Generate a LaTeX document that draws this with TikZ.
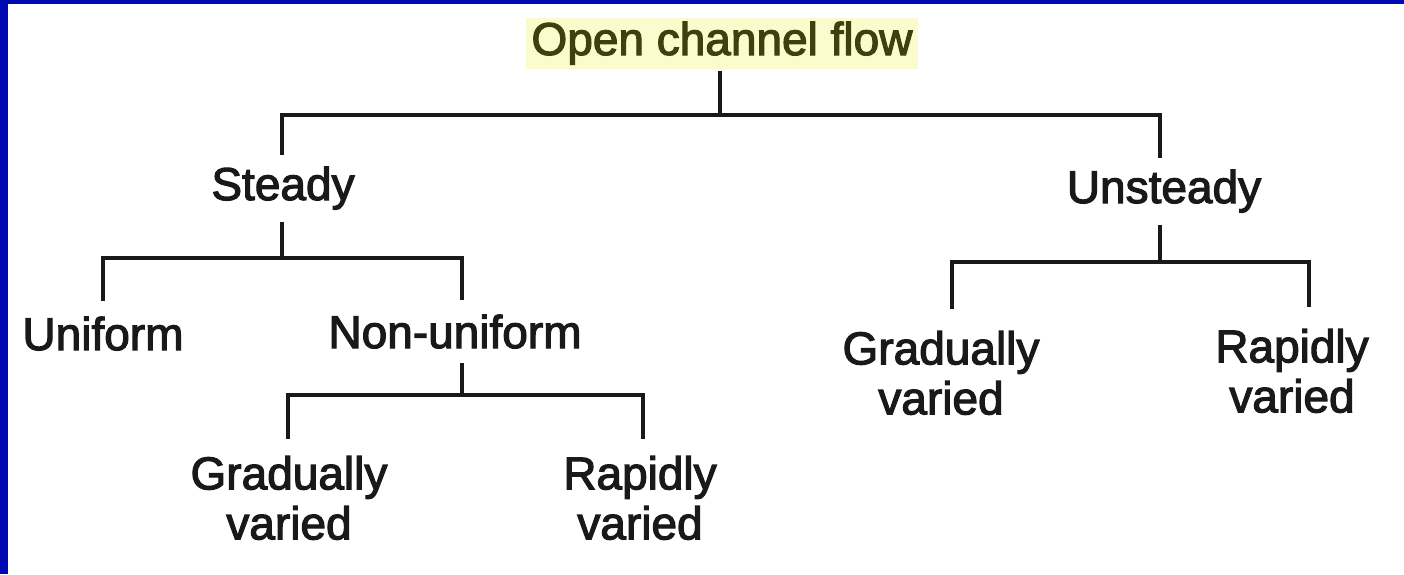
\documentclass[tikz,border=0pt]{standalone}
\usepackage{fontspec}
\setmainfont{Liberation Sans}[FakeBold=2.5]
\definecolor{frameblue}{RGB}{2,8,178}
\definecolor{titleink}{RGB}{64,64,14}
\definecolor{hl}{RGB}{251,251,205}
\definecolor{ink}{RGB}{25,25,25}
\begin{document}
\begin{tikzpicture}[x=1pt,y=-1pt,
  lbl/.style={font=\fontsize{46}{50}\selectfont, inner sep=0pt, outer ysep=12pt, text=ink, align=center},
  tree/.style={draw=ink, line width=3.5pt}]
\useasboundingbox (0,0) rectangle (1404,574);
\fill[white] (0,0) rectangle (1404,574);
\fill[frameblue] (0,0) rectangle (1404,4);
\fill[frameblue] (0,0) rectangle (8,574);
% nodes
\node[lbl, anchor=base, text=titleink, fill=hl, inner xsep=5pt, inner ysep=4pt, outer ysep=2pt] (title) at (722,55) {Open channel flow};
\node[lbl, anchor=base] (steady) at (283,200) {Steady};
\node[lbl, anchor=base] (unsteady) at (1164,203) {Unsteady};
\node[lbl, anchor=base, outer ysep=16pt] (uniform) at (103,350) {Uniform};
\node[lbl, anchor=base, outer ysep=15pt] (nonuni) at (455,348) {Non-uniform};
\node[lbl, anchor=north, outer ysep=17pt] (grad1) at (289,439) {Gradually\\varied};
\node[lbl, anchor=north, outer ysep=17pt] (rap1) at (640,439) {Rapidly\\varied};
\node[lbl, anchor=north, outer ysep=22pt] (grad2) at (941,309) {Gradually\\varied};
\node[lbl, anchor=north, outer ysep=22pt] (rap2) at (1292,307) {Rapidly\\varied};
% junctions
\coordinate (j0) at (720,115);
\coordinate (j1) at (282,258);
\coordinate (j2) at (462,395);
\coordinate (j3) at (1160,262);
% connectors
\draw[tree] (title.south -| j0) -- (j0);
\draw[tree] (steady.north -| j1) |- (j0) -| (unsteady.north -| j3);
\draw[tree] (steady.south -| j1) -- (j1);
\draw[tree] (uniform.north) |- (j1) -| (nonuni.north -| j2);
\draw[tree] (nonuni.south -| j2) -- (j2);
\draw[tree] ([xshift=-1pt]grad1.north) |- (j2) -| ([xshift=3pt]rap1.north);
\draw[tree] (unsteady.south -| j3) -- (j3);
\draw[tree] ([xshift=11pt]grad2.north) |- (j3) -| ([xshift=17pt]rap2.north);
\end{tikzpicture}
\end{document}
